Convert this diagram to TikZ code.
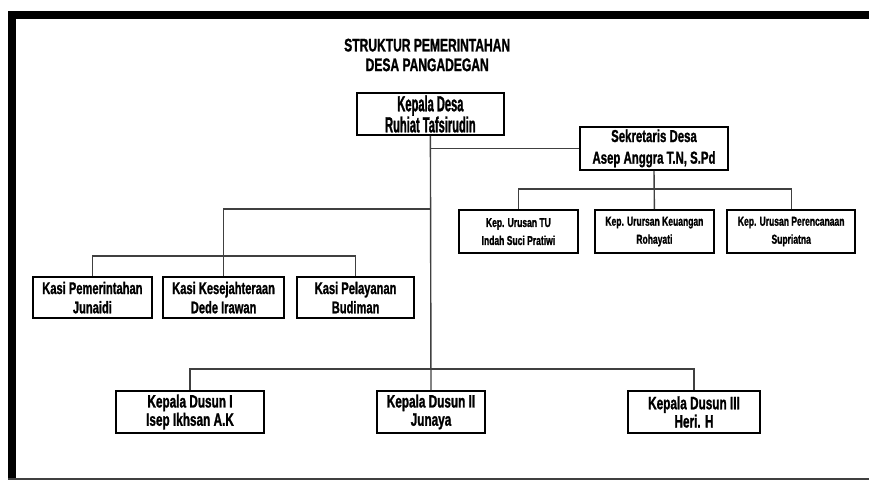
\documentclass[tikz,border=0pt]{standalone}
\usepackage{fontspec}
\setmainfont[FakeStretch=0.66,FakeBold=1.2]{Liberation Sans Bold}
\newfontfamily\sempit[FakeStretch=0.51,FakeBold=1.2]{Liberation Sans Bold}
\usepackage{tikz}
\usetikzlibrary{positioning,calc}

\tikzset{
	box/.style={shape=rectangle,draw=black,line width=1.4pt,inner sep=0pt,align=center},
	link/.style={draw=black!75,line width=1pt}
}

\begin{document}
\begin{tikzpicture}
				\useasboundingbox (0,0) rectangle (21.725,-12);
				% frame
				\fill[black] (0.2,-0.275) rectangle (0.4,-12);
				\fill[black] (0.2,-0.275) rectangle (21.725,-0.475);
				\fill[black!75] (0.2,-11.95) rectangle (21.725,-12);

				\node[align=center,font=\fontsize{13}{14}\selectfont] (judul) at (10.68,-1.375) {STRUKTUR PEMERINTAHAN\\DESA PANGADEGAN};

				\node[box,minimum width=3.675cm,minimum height=1.05cm,font=\sempit\fontsize{15.5}{15}\selectfont] (kades) at (10.76,-2.85) {Kepala Desa\\Ruhiat Tafsirudin};
				\node[box,minimum width=3.7cm,minimum height=1.075cm,font=\fontsize{12.3}{15.4}\selectfont] (sekdes) at (16.35,-3.71) {Sekretaris Desa\\Asep Anggra T.N, S.Pd};

				\node[box,minimum width=2.975cm,minimum height=1.075cm,font=\fontsize{9.2}{12.8}\selectfont] (tu) at (12.96,-5.79) {Kep. Urusan TU\\Indah Suci Pratiwi};
				\node[box,minimum width=2.975cm,minimum height=1.075cm,font=\fontsize{9.2}{12.8}\selectfont] (uang) at (16.36,-5.79) {Kep. Urursan Keuangan\\Rohayati};
				\node[box,minimum width=3.2cm,minimum height=1.075cm,font=\fontsize{9.2}{12.8}\selectfont] (rencana) at (19.78,-5.79) {Kep. Urusan Perencanaan\\Supriatna};

				\node[box,minimum width=2.975cm,minimum height=1.025cm,font=\fontsize{12}{13.7}\selectfont] (kasipem) at (2.31,-7.44) {Kasi Pemerintahan\\Junaidi};
				\node[box,minimum width=3.025cm,minimum height=1.025cm,font=\fontsize{12}{13.7}\selectfont] (kasikes) at (5.59,-7.44) {Kasi Kesejahteraan\\Dede Irawan};
				\node[box,minimum width=2.925cm,minimum height=1.025cm,font=\fontsize{12}{13.7}\selectfont] (kasipel) at (8.89,-7.44) {Kasi Pelayanan\\Budiman};

				\node[box,minimum width=3.7cm,minimum height=1.05cm,font=\fontsize{12.7}{13}\selectfont] (dusun1) at (4.75,-10.3) {Kepala Dusun I\\Isep Ikhsan A.K};
				\node[box,minimum width=2.7cm,minimum height=1.05cm,font=\fontsize{12.7}{13}\selectfont] (dusun2) at (10.775,-10.3) {Kepala Dusun II\\Junaya};
				\node[box,minimum width=3.3cm,minimum height=1.05cm,font=\fontsize{12.7}{13}\selectfont] (dusun3) at (17.35,-10.3) {Kepala Dusun III\\Heri. H};

				\coordinate (kasisiku) at (10.775,-5.225);
				\coordinate (kasibar) at (5.59,-6.4);
				\coordinate (tubar) at (16.36,-4.725);
				\coordinate (dusunbar) at (10.775,-9.225);

				\draw[link] (kades.south) -- (dusun2.north);
				\draw[link] (sekdes.west) -- (sekdes.west -| kades.south);
				\draw[link] (kasisiku) -| (kasikes.north);
				\draw[link] (kasipem.north) |- (kasibar) -| (kasipel.north);
				\draw[link] (sekdes.south) -- (uang.north);
				\draw[link] (tu.north) |- (tubar) -| (rencana.north);
				\draw[link] (dusun1.north) |- (dusunbar) -| (dusun3.north);
				\draw[black!80,line width=0.4pt] ([yshift=0.17cm]kades.center) circle (0.045);
			\end{tikzpicture}
\end{document}
